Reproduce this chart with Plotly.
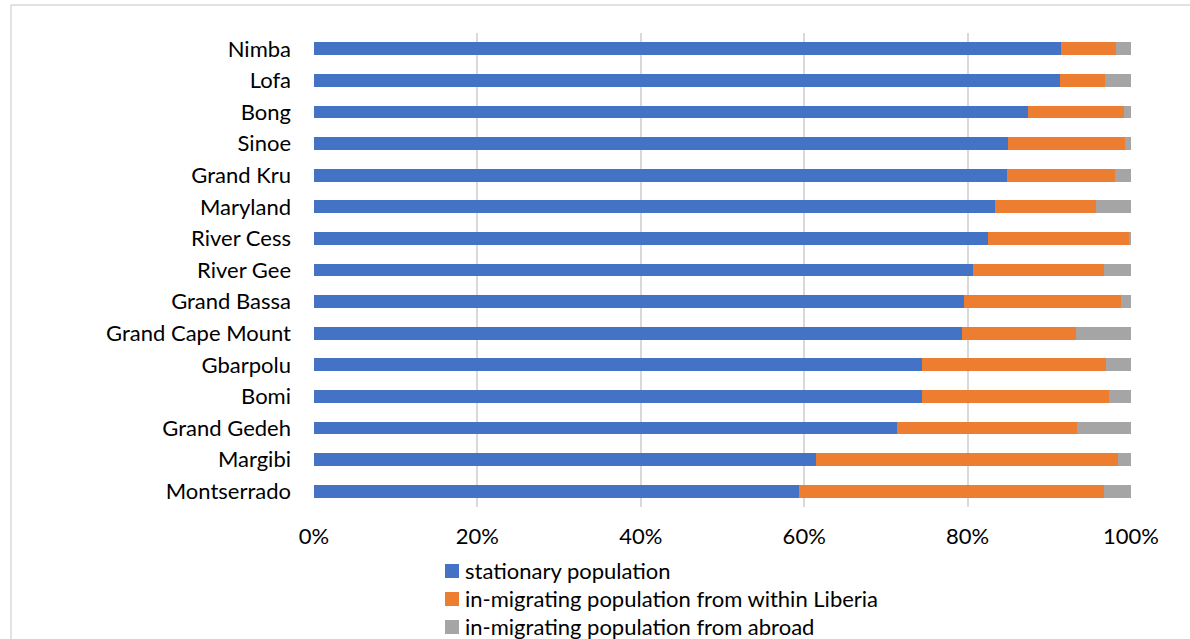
import plotly.graph_objects as go

counties = ["Nimba", "Lofa", "Bong", "Sinoe", "Grand Kru", "Maryland", "River Cess",
            "River Gee", "Grand Bassa", "Grand Cape Mount", "Gbarpolu", "Bomi",
            "Grand Gedeh", "Margibi", "Montserrado"]
stationary = [91.4, 91.3, 87.4, 85.0, 84.8, 83.4, 82.5, 80.7, 79.6, 79.3, 74.4, 74.4, 71.4, 61.4, 59.4]
within_liberia = [6.8, 5.5, 11.7, 14.3, 13.3, 12.3, 17.3, 16.0, 19.2, 14.0, 22.5, 22.9, 22.0, 37.0, 37.3]
abroad = [1.8, 3.2, 0.9, 0.7, 1.9, 4.3, 0.2, 3.3, 1.2, 6.7, 3.1, 2.7, 6.6, 1.6, 3.3]
series_names = ["stationary population", "in-migrating population from within Liberia",
                "in-migrating population from abroad"]
colors = ["#4472C4", "#ED7D31", "#A5A5A5"]
x_ticks = [0, 20, 40, 60, 80, 100]
x_ticklabels = ["0%", "20%", "40%", "60%", "80%", "100%"]

FONT = "Lato"
FS = 22
fig = go.Figure()
for i, (name, vals) in enumerate(zip(series_names, [stationary, within_liberia, abroad])):
    fig.add_trace(go.Bar(
        y=counties, x=vals, name=name, orientation="h",
        marker=dict(color=colors[i], line=dict(width=0)),
        showlegend=False,
    ))

W, H = 1190, 639
ml, mr, mt, mb = 314, 59, 33, 132
pw, ph = W - ml - mr, H - mt - mb

def px_x(px):
    return (px - ml) / pw

def px_y(py):
    return (H - mb - py) / ph

shapes = [
    dict(type="line", xref="paper", yref="paper", x0=px_x(11), x1=px_x(11),
         y0=px_y(5), y1=px_y(650), line=dict(color="#D9D9D9", width=1.5)),
    dict(type="line", xref="paper", yref="paper", x0=px_x(11), x1=px_x(1200),
         y0=px_y(5), y1=px_y(5), line=dict(color="#D9D9D9", width=1.5)),
]
annotations = []
legend_centers = [571, 599, 627]
for i, name in enumerate(series_names):
    cy = legend_centers[i]
    shapes.append(dict(type="rect", xref="paper", yref="paper",
                       x0=px_x(445), x1=px_x(459), y0=px_y(cy + 7), y1=px_y(cy - 7),
                       fillcolor=colors[i], line=dict(width=0)))
    annotations.append(dict(xref="paper", yref="paper", x=px_x(463), y=px_y(cy - 1),
                            xanchor="left", yanchor="middle", showarrow=False,
                            text=name, font=dict(family=FONT, size=FS, color="#000000")))

fig.update_layout(
    width=W, height=H,
    margin=dict(l=ml, r=mr, t=mt, b=mb, pad=0),
    barmode="stack", bargap=0.6,
    paper_bgcolor="white", plot_bgcolor="white",
    font=dict(family=FONT, size=FS, color="#000000"),
    xaxis=dict(range=[0, 100], tickvals=x_ticks, ticktext=x_ticklabels,
               showgrid=True, gridcolor="#D9D9D9", gridwidth=1.5,
               zeroline=False, showline=False, ticks="", ticklabelstandoff=14,
               tickfont=dict(size=FS)),
    yaxis=dict(autorange="reversed", type="category", showgrid=False,
               showline=False, ticks="", ticklabelstandoff=22,
               tickfont=dict(size=FS)),
    showlegend=False,
    shapes=shapes,
    annotations=annotations,
)

fig.write_html("out.html")
